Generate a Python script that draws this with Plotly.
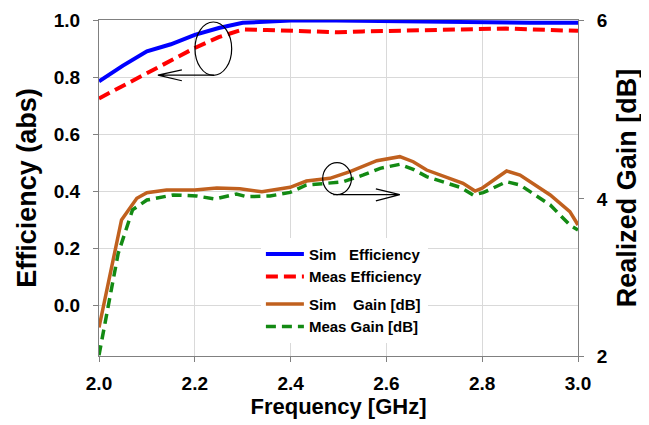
import plotly.graph_objects as go

# ---- data ----
freq_eff = [2.0, 2.05, 2.1, 2.15, 2.2, 2.25, 2.3, 2.35, 2.4, 2.45, 2.5, 2.55, 2.6,
            2.65, 2.7, 2.75, 2.8, 2.85, 2.9, 2.95, 3.0]
sim_eff = [0.785, 0.84, 0.89, 0.915, 0.948, 0.972, 0.99, 0.995, 0.998, 0.999, 0.998,
           0.997, 0.996, 0.995, 0.993, 0.99, 0.989, 0.989, 0.99, 0.99, 0.99]
meas_eff = [0.725, 0.77, 0.815, 0.86, 0.902, 0.94, 0.967, 0.965, 0.963, 0.962, 0.957,
            0.96, 0.962, 0.963, 0.965, 0.968, 0.97, 0.97, 0.967, 0.963, 0.962]

freq_sim_gain = [2.0, 2.047, 2.079, 2.1, 2.141, 2.2, 2.246, 2.294, 2.34, 2.399, 2.433,
                 2.482, 2.524, 2.58, 2.628, 2.656, 2.684, 2.76, 2.785, 2.799, 2.851,
                 2.879, 2.942, 2.983, 3.0]
sim_gain = [2.34, 3.62, 3.877, 3.944, 3.976, 3.976, 4.0, 3.99, 3.956, 4.008, 4.083,
            4.115, 4.194, 4.325, 4.373, 4.313, 4.214, 4.056, 3.964, 3.996, 4.202,
            4.155, 3.917, 3.718, 3.56]

freq_meas_gain = [2.0, 2.04, 2.07, 2.1, 2.155, 2.204, 2.242, 2.287, 2.308, 2.357, 2.399,
                  2.433, 2.475, 2.51, 2.552, 2.587, 2.628, 2.656, 2.684, 2.754, 2.781,
                  2.802, 2.851, 2.879, 2.942, 2.983, 3.0]
meas_gain = [2.01, 3.22, 3.74, 3.857, 3.917, 3.905, 3.869, 3.929, 3.897, 3.905, 3.948,
             4.036, 4.056, 4.075, 4.155, 4.234, 4.282, 4.222, 4.135, 4.008, 3.917,
             3.944, 4.075, 4.036, 3.798, 3.56, 3.5]

x_ticks = [2.0, 2.2, 2.4, 2.6, 2.8, 3.0]
x_ticktext = ["2.0", "2.2", "2.4", "2.6", "2.8", "3.0"]
y_ticks = [0.0, 0.2, 0.4, 0.6, 0.8, 1.0]
y_ticktext = ["0.0", "0.2", "0.4", "0.6", "0.8", "1.0"]
y2_ticks = [2, 3.87, 6]
y2_ticktext = ["2", "4", "6"]

names = ["Sim\u00a0\u00a0\u00a0Efficiency", "Meas Efficiency",
         "Sim\u00a0\u00a0\u00a0\u00a0Gain [dB]", "Meas Gain [dB]"]

FONT = "Liberation Sans, Arial, sans-serif"

fig = go.Figure()
fig.add_trace(go.Scatter(x=freq_eff, y=sim_eff, mode="lines", name=names[0],
                         legendgroup="eff",
                         line=dict(color="#0000ff", width=4)))
fig.add_trace(go.Scatter(x=freq_eff, y=meas_eff, mode="lines", name=names[1],
                         legendgroup="eff",
                         line=dict(color="#ff0000", width=4, dash="12px,6px")))
fig.add_trace(go.Scatter(x=freq_sim_gain, y=sim_gain, mode="lines", name=names[2],
                         legendgroup="gain", yaxis="y2",
                         line=dict(color="#c0601e", width=3.5)))
fig.add_trace(go.Scatter(x=freq_meas_gain, y=meas_gain, mode="lines", name=names[3],
                         legendgroup="gain", yaxis="y2",
                         line=dict(color="#138a13", width=3.5, dash="10px,6px")))

# annotation ellipses + arrows (decorations)
shapes = [
    dict(type="circle", xref="x", yref="y", x0=2.2004, x1=2.277, y0=0.806, y1=0.993,
         line=dict(color="black", width=1.2)),
    dict(type="path", xref="x", yref="y",
         path="M 2.24,0.807 L 2.123,0.807 M 2.173,0.825 L 2.123,0.807 L 2.173,0.787",
         line=dict(color="black", width=1.2)),
    dict(type="circle", xref="x", yref="y", x0=2.467, x1=2.527, y0=0.388, y1=0.5,
         line=dict(color="black", width=1.2)),
    dict(type="path", xref="x", yref="y",
         path="M 2.489,0.388 L 2.628,0.388 M 2.578,0.408 L 2.628,0.388 L 2.578,0.366",
         line=dict(color="black", width=1.2)),
]

fig.update_layout(
    width=641, height=417,
    margin=dict(l=91, r=71, t=12, b=69, autoexpand=False),
    paper_bgcolor="white", plot_bgcolor="white",
    font=dict(family=FONT, color="black"),
    shapes=shapes,
    showlegend=True,
    legend=dict(x=0.338, y=0.352, xanchor="left", yanchor="top",
                bgcolor="white", borderwidth=0,
                font=dict(family=FONT, size=15, color="black", weight="bold"),
                traceorder="grouped", tracegroupgap=5, itemwidth=38),
    xaxis=dict(range=[2.0, 3.0], tickvals=x_ticks, ticktext=x_ticktext,
               showgrid=True, gridcolor="#d9d9d9", gridwidth=1,
               showline=True, linecolor="#808080", linewidth=1, mirror=True,
               ticks="outside", ticklen=5, tickcolor="#808080",
               ticklabelstandoff=5,
               tickfont=dict(size=19, weight="bold"),
               title=dict(text="Frequency [GHz]", font=dict(size=22, weight="bold"),
                          standoff=4),
               zeroline=False),
    yaxis=dict(range=[-0.178, 1.0], tickvals=y_ticks, ticktext=y_ticktext,
               showgrid=True, gridcolor="#d9d9d9", gridwidth=1,
               showline=True, linecolor="#808080", linewidth=1,
               ticks="outside", ticklen=5, tickcolor="#808080",
               ticklabelstandoff=9,
               tickfont=dict(size=19, weight="bold"),
               title=dict(text="Efficiency (abs)", font=dict(size=27, weight="bold"),
                          standoff=9),
               zeroline=False),
    yaxis2=dict(range=[2, 6], overlaying="y", side="right",
                tickvals=y2_ticks, ticktext=y2_ticktext,
                showgrid=False, showline=True, linecolor="#808080", linewidth=1,
                ticks="outside", ticklen=5, tickcolor="#808080",
                ticklabelstandoff=9,
                tickfont=dict(size=19, weight="bold"),
                title=dict(text="Realized Gain [dB]", font=dict(size=27, weight="bold"),
                           standoff=10),
                zeroline=False),
)

fig.write_html("out.html")
